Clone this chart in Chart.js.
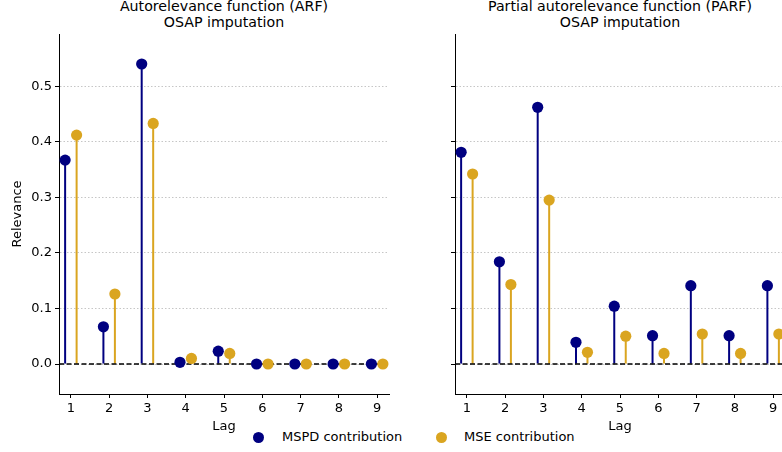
<!DOCTYPE html>
<html>
<head>
<meta charset="utf-8">
<script src="https://cdn.jsdelivr.net/npm/chart.js@4/dist/chart.umd.min.js"></script>
<style>
    body { margin: 0; width: 782px; height: 452px; overflow: hidden; position: relative; background: #fff; font-family: "DejaVu Sans", sans-serif; }
    canvas { position: absolute; top: 0; }
    .title { position: absolute; top: -2px; width: 330px; text-align: center; font-size: 14.2px; line-height: 16px; color: #000; }
    .legend { position: absolute; top: 429px; font-size: 13px; line-height: 16px; color: #000; }
    .dot { position: absolute; width: 11px; height: 11px; border-radius: 50%; }
</style>
</head>
<body>
<div class="title" style="left:59px">Autorelevance function (ARF)<br>OSAP imputation</div>
<div class="title" style="left:455px">Partial autorelevance function (PARF)<br>OSAP imputation</div>
<div class="dot" style="left:253px;top:432px;background:#000080"></div>
<div class="legend" style="left:282px">MSPD contribution</div>
<div class="dot" style="left:436px;top:432px;background:#daa520"></div>
<div class="legend" style="left:464px">MSE contribution</div>
<div style="position:absolute;left:0;top:0;width:400px;height:452px"><canvas id="arfChart" width="400" height="452"></canvas></div>
<div style="position:absolute;left:400px;top:0;width:400px;height:452px"><canvas id="parfChart" width="400" height="452"></canvas></div>
<script>
// lags and y ticks
const lags = [1, 2, 3, 4, 5, 6, 7, 8, 9];
const yTicks = [0, 0.1, 0.2, 0.3, 0.4, 0.5];

// ARF values
const arfMspd = [0.367, 0.067, 0.540, 0.003, 0.023, 0, 0, 0, 0];
const arfMse = [0.412, 0.126, 0.433, 0.010, 0.019, 0, 0, 0, 0];

// PARF values
const parfMspd = [0.381, 0.184, 0.462, 0.039, 0.104, 0.051, 0.141, 0.051, 0.141];
const parfMse = [0.342, 0.143, 0.295, 0.021, 0.050, 0.019, 0.054, 0.019, 0.054];

const NAVY = '#000080';
const GOLD = '#daa520';
const X_MIN = 0.69, X_MAX = 9.31;
const Y_MIN = -0.054, Y_MAX = 0.594;
const FONT = { family: 'DejaVu Sans', size: 13 };

function stems(values, shift, color) {
    return {
        type: 'bar',
        data: lags.map((l, i) => ({ x: l + shift, y: values[i] })),
        backgroundColor: color,
        grouped: false,
        maxBarThickness: 2,
        order: 3,
    };
}

function markers(values, shift, color) {
    return {
        type: 'scatter',
        data: lags.map((l, i) => ({ x: l + shift, y: values[i] })),
        backgroundColor: color,
        borderWidth: 0,
        pointRadius: 5.6,
        order: 0,
    };
}

function makeChart(id, mspd, mse, showYLabels, yWidth, padRight) {
    const ctx = document.getElementById(id).getContext('2d');
    return new Chart(ctx, {
        type: 'scatter',
        data: {
            datasets: [
                markers(mspd, -0.15, NAVY),
                markers(mse, 0.15, GOLD),
                {
                    type: 'line',
                    data: [{ x: X_MIN, y: 0 }, { x: X_MAX, y: 0 }],
                    borderColor: '#000',
                    borderWidth: 1.4,
                    borderDash: [5, 2.5],
                    pointRadius: 0,
                    order: 1,
                },
                stems(mspd, -0.15, NAVY),
                stems(mse, 0.15, GOLD),
            ],
        },
        options: {
            responsive: false,
            animation: false,
            layout: { padding: { left: 0, right: padRight, top: 34, bottom: 18 } },
            plugins: { legend: { display: false }, tooltip: { enabled: false } },
            scales: {
                x: {
                    type: 'linear',
                    min: X_MIN,
                    max: X_MAX,
                    offset: false,
                    afterBuildTicks: axis => { axis.ticks = lags.map(v => ({ value: v })); },
                    afterFit: axis => { axis.height = 40; },
                    grid: { offset: false, drawOnChartArea: false, drawTicks: true, tickLength: 4, tickColor: '#000', tickWidth: 1 },
                    border: { color: '#000', width: 1 },
                    ticks: { color: '#000', padding: 3, maxRotation: 0, font: FONT },
                    title: { display: true, text: 'Lag', color: '#000', padding: { top: 3, bottom: 0 }, font: FONT },
                },
                y: {
                    type: 'linear',
                    min: Y_MIN,
                    max: Y_MAX,
                    afterBuildTicks: axis => { axis.ticks = yTicks.map(v => ({ value: v })); },
                    afterFit: axis => { axis.width = yWidth; },
                    grid: { color: '#b8b8b8', lineWidth: 0.8, drawTicks: true, tickLength: 4, tickColor: '#000', tickWidth: 1, tickBorderDash: [] },
                    border: { color: '#000', width: 1, dash: [1.5, 2] },
                    ticks: {
                        display: showYLabels,
                        color: '#000',
                        padding: 3,
                        font: FONT,
                        callback: v => v.toFixed(1),
                    },
                    title: { display: showYLabels, text: 'Relevance', color: '#000', padding: { top: 10, bottom: 4 }, font: FONT },
                },
            },
        },
    });
}

makeChart('arfChart', arfMspd, arfMse, true, 59, 11);
makeChart('parfChart', parfMspd, parfMse, false, 55, 15);
</script>
</body>
</html>
